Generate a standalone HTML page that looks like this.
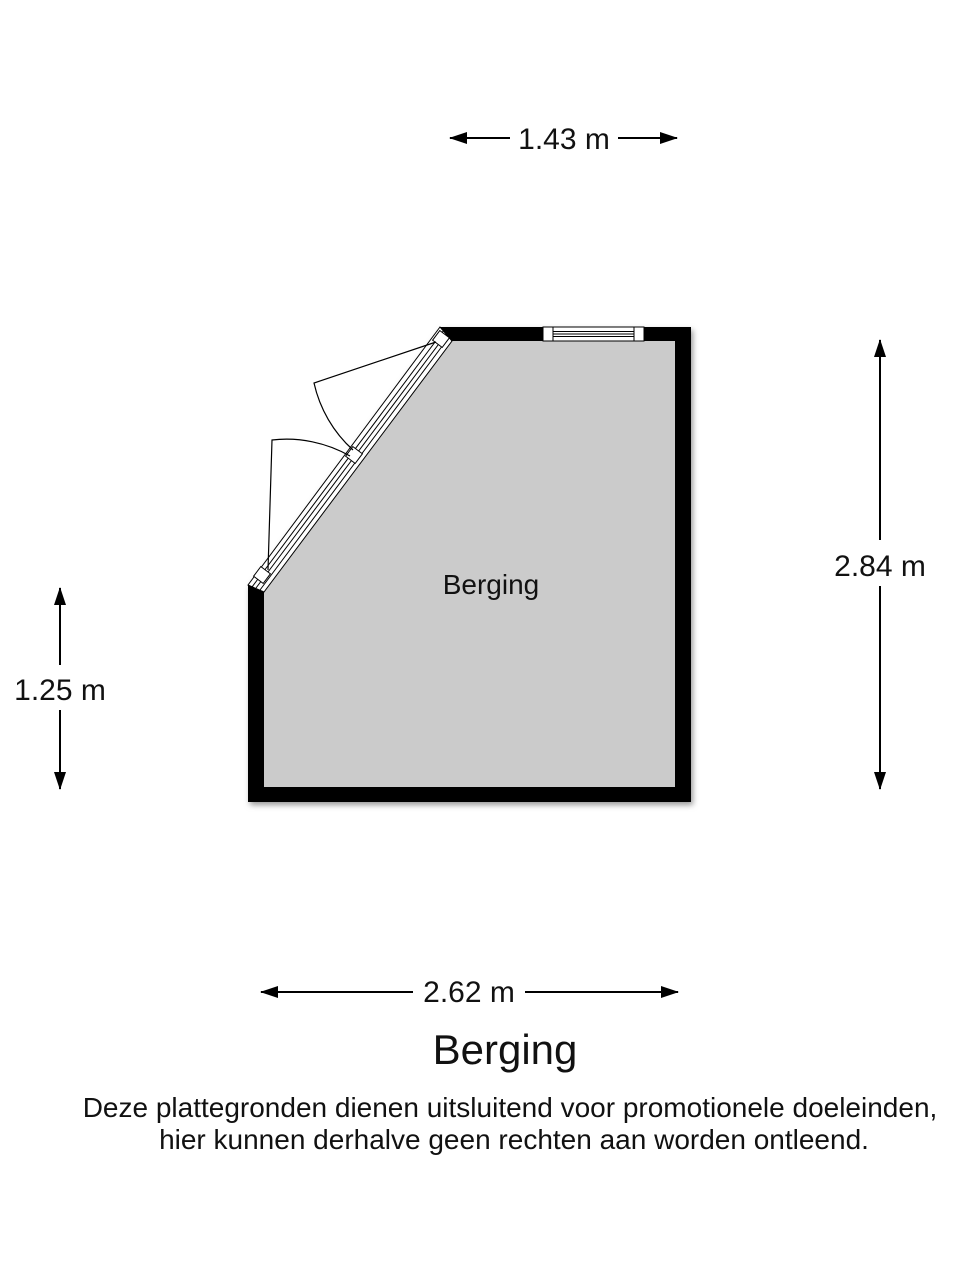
<!DOCTYPE html>
<html><head><meta charset="utf-8"><style>
html,body{margin:0;padding:0;background:#fff;}
svg{display:block;}
text{font-family:"Liberation Sans",Arial,sans-serif;fill:#111;}
</style></head><body>
<svg width="960" height="1280" viewBox="0 0 960 1280" xmlns="http://www.w3.org/2000/svg">
<defs>
<filter id="sh" x="-10%" y="-10%" width="120%" height="120%"><feGaussianBlur stdDeviation="3"/></filter>
<marker id="ah" markerWidth="18" markerHeight="12" refX="17" refY="6" orient="auto" markerUnits="userSpaceOnUse"><path d="M0,0 L18,6 L0,12 Z" fill="#000"/></marker>
</defs>
<path d="M440,327 L691,327 L691,802 L248,802 L248,585 Z" fill="#999" filter="url(#sh)" transform="translate(2,3)"/>
<path d="M440,327 L691,327 L691,802 L248,802 L248,585 Z" fill="#000"/>
<path d="M264,592 L452,341 L675,341 L675,787 L264,787 Z" fill="#cbcbcb"/>
<path d="M248,585 L440,327 L452,341 L264,592 Z" fill="#fff" stroke="#000" stroke-width="1"/>
<line x1="252" y1="587" x2="444" y2="330" stroke="#000" stroke-width="1"/>
<line x1="256" y1="588" x2="447" y2="333" stroke="#000" stroke-width="1"/>
<line x1="260" y1="590" x2="449" y2="337" stroke="#000" stroke-width="1"/>
<rect x="-6" y="-6" width="12" height="12" fill="#fff" stroke="#000" transform="translate(262,575) rotate(-53)"/>
<rect x="-6" y="-6" width="12" height="12" fill="#fff" stroke="#000" transform="translate(354,455) rotate(-53)"/>
<rect x="-6" y="-6" width="12" height="12" fill="#fff" stroke="#000" transform="translate(441,339) rotate(-53)"/>
<rect x="543" y="327" width="101" height="14" fill="#fff" stroke="#000"/>
<rect x="543" y="327" width="10" height="14" fill="#fff" stroke="#000"/>
<rect x="634" y="327" width="10" height="14" fill="#fff" stroke="#000"/>
<line x1="553" y1="331.5" x2="634" y2="331.5" stroke="#000"/>
<line x1="553" y1="334" x2="634" y2="334" stroke="#000"/>
<line x1="553" y1="336.5" x2="634" y2="336.5" stroke="#000"/>
<path d="M436,342 L314,383 A128,128 0 0 0 353,450" fill="none" stroke="#000" stroke-width="1.2"/>
<path d="M268,570 L272,440 A128,128 0 0 1 350,456" fill="none" stroke="#000" stroke-width="1.2"/>
<text x="491" y="594" font-size="28" text-anchor="middle">Berging</text>
<line x1="510" y1="138" x2="450" y2="138" stroke="#000" stroke-width="2" marker-end="url(#ah)"/>
<line x1="618" y1="138" x2="677" y2="138" stroke="#000" stroke-width="2" marker-end="url(#ah)"/>
<text x="564" y="149" font-size="30" text-anchor="middle">1.43 m</text>
<line x1="880" y1="540" x2="880" y2="340" stroke="#000" stroke-width="2" marker-end="url(#ah)"/>
<line x1="880" y1="586" x2="880" y2="789" stroke="#000" stroke-width="2" marker-end="url(#ah)"/>
<text x="880" y="576" font-size="30" text-anchor="middle">2.84 m</text>
<line x1="60" y1="665" x2="60" y2="588" stroke="#000" stroke-width="2" marker-end="url(#ah)"/>
<line x1="60" y1="710" x2="60" y2="789" stroke="#000" stroke-width="2" marker-end="url(#ah)"/>
<text x="60" y="700" font-size="30" text-anchor="middle">1.25 m</text>
<line x1="413" y1="992" x2="261" y2="992" stroke="#000" stroke-width="2" marker-end="url(#ah)"/>
<line x1="525" y1="992" x2="678" y2="992" stroke="#000" stroke-width="2" marker-end="url(#ah)"/>
<text x="469" y="1002" font-size="30" text-anchor="middle">2.62 m</text>
<text x="505" y="1064" font-size="42" text-anchor="middle">Berging</text>
<text x="510" y="1117" font-size="28" text-anchor="middle">Deze plattegronden dienen uitsluitend voor promotionele doeleinden,</text>
<text x="514" y="1149" font-size="28" text-anchor="middle">hier kunnen derhalve geen rechten aan worden ontleend.</text>
</svg>
</body></html>
